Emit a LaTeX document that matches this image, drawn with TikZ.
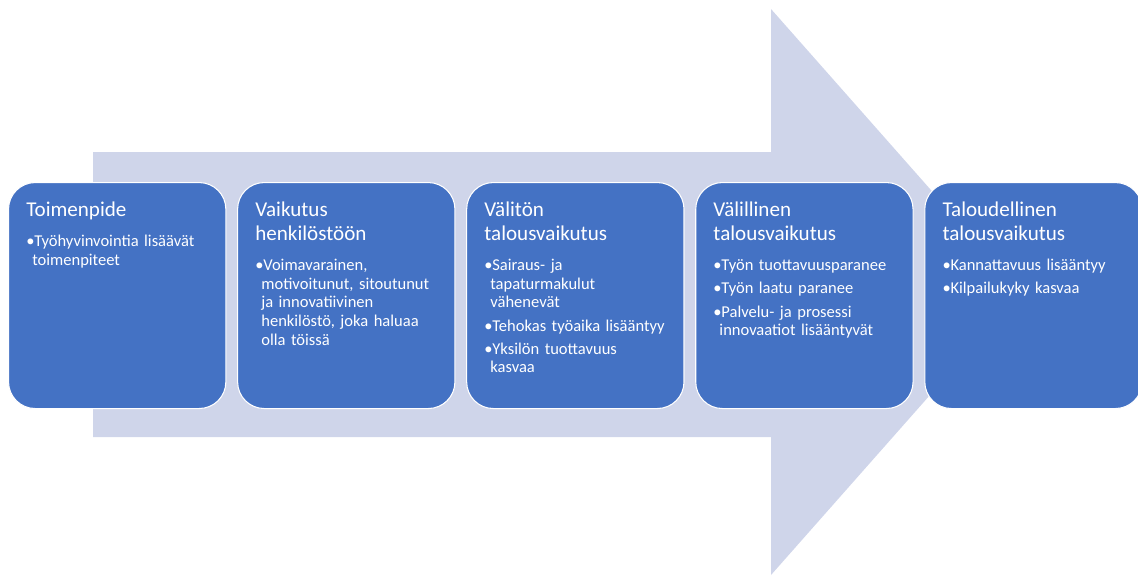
\documentclass[tikz,border=0pt]{standalone}
\usepackage{fontspec}
\setmainfont{Carlito}
\usetikzlibrary{positioning}

\definecolor{shaftgray}{HTML}{CFD5EA}
\definecolor{stepblue}{HTML}{4472C4}

% title and bullet lines inside a box
\newcommand\boxtitle[1]{{\fontsize{15.8}{18}\selectfont #1\par}\vspace{8.6pt}}
\newcommand\bul[1]{\hangindent=4.5pt\hangafter=1\noindent\makebox[6pt][l]{\textbullet}#1\par\vspace{3.4pt}}

\tikzset{
  stepbox/.style={draw=white, line width=0.8pt, fill=stepblue, rounded corners=20pt,
    minimum width=163pt, minimum height=169.5pt, inner sep=0pt},
  steptext/.style={anchor=north west, inner sep=0pt, text width=150pt, align=left,
    text=white, font=\fontsize{12.4}{13.9}\selectfont}
}

\begin{document}
\begin{tikzpicture}[x=0.75pt,y=-0.75pt]
  \useasboundingbox (0,0) rectangle (1138,575);
  % big arrow in the back
  \fill[shaftgray] (93,152) -- (771,152) -- (771,9) -- (1021,292) -- (771,575)
    -- (771,437) -- (93,437) -- cycle;
  % the five steps
  \node[stepbox, anchor=north west] (b1) at (8,182) {};
  \node[stepbox, right=8pt of b1] (b2) {};
  \node[stepbox, right=8pt of b2] (b3) {};
  \node[stepbox, right=8pt of b3] (b4) {};
  \node[stepbox, right=8pt of b4] (b5) {};
  \node[steptext] (t1) at ([xshift=13.5pt,yshift=-15pt]b1.north west) {%
    \boxtitle{Toimenpide}
    \bul{Työhyvinvointia lisäävät\newline toimenpiteet}};
  \node[steptext] (t2) at ([xshift=13.5pt,yshift=-15pt]b2.north west) {%
    \boxtitle{Vaikutus\\henkilöstöön}
    \bul{Voimavarainen,\newline motivoitunut, sitoutunut\newline ja innovatiivinen\newline henkilöstö, joka haluaa\newline olla töissä}};
  \node[steptext] (t3) at ([xshift=13.5pt,yshift=-15pt]b3.north west) {%
    \boxtitle{Välitön\\talousvaikutus}
    \bul{Sairaus- ja\newline tapaturmakulut\newline vähenevät}
    \bul{Tehokas työaika lisääntyy}
    \bul{Yksilön tuottavuus\newline kasvaa}};
  \node[steptext] (t4) at ([xshift=13.5pt,yshift=-15pt]b4.north west) {%
    \boxtitle{Välillinen\\talousvaikutus}
    \bul{Työn tuottavuusparanee}
    \bul{Työn laatu paranee}
    \bul{Palvelu- ja prosessi\newline innovaatiot lisääntyvät}};
  \node[steptext] (t5) at ([xshift=13.5pt,yshift=-15pt]b5.north west) {%
    \boxtitle{Taloudellinen\\talousvaikutus}
    \bul{Kannattavuus lisääntyy}
    \bul{Kilpailukyky kasvaa}};
\end{tikzpicture}
\end{document}
